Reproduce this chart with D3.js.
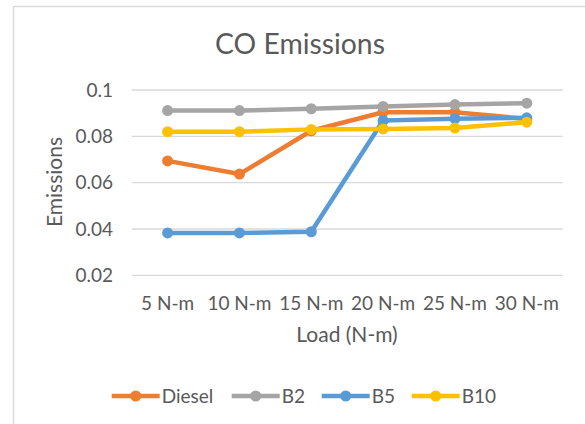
<!DOCTYPE html>
<html><head><meta charset="utf-8">
<script src="https://cdn.jsdelivr.net/npm/d3@7"></script>
<style>body{margin:0;background:#fff}svg{display:block}text{font-family:Lato,"Open Sans",sans-serif;fill:#595959}</style>
</head><body>
<script>
const categories = ["5 N-m","10 N-m","15 N-m","20 N-m","25 N-m","30 N-m"];
const seriesNames = ["Diesel","B2","B5","B10"];
const diesel = [0.0694,0.0637,0.0824,0.0904,0.0904,0.0875];
const b2 = [0.0911,0.0911,0.0919,0.0929,0.0937,0.0943];
const b5 = [0.0383,0.0383,0.0388,0.0868,0.0876,0.0880];
const b10 = [0.0820,0.0820,0.0830,0.0832,0.0836,0.0861];
const yTicks = [0.02,0.04,0.06,0.08,0.1];
const colors = ["#ED7D31","#A5A5A5","#5B9BD5","#FFC000"];
const seriesValues = [diesel,b2,b5,b10];

const W=585,H=424;
const svg=d3.select("body").append("svg").attr("width",W).attr("height",H);
svg.append("rect").attr("x",13.5).attr("y",6.5).attr("width",W).attr("height",H)
  .attr("fill","#fff").attr("stroke","#d9d9d9").attr("stroke-width",1.5);

const x=d3.scaleBand().domain(categories).range([131.7,562.7]);
const y=d3.scaleLinear().domain([0.02,0.1]).range([275.3,90]);

// gridlines
svg.append("g").selectAll("line").data(yTicks).join("line")
  .attr("x1",x.range()[0]).attr("x2",x.range()[1])
  .attr("y1",d=>y(d)).attr("y2",d=>y(d))
  .attr("stroke","#d9d9d9").attr("stroke-width",1.3);

// y axis labels
const yAxis=d3.axisLeft(y).tickValues(yTicks).tickSize(0).tickPadding(0).tickFormat(d=>d3.format("")(+d.toFixed(2)));
const gy=svg.append("g").attr("transform","translate(113,0)").call(yAxis);
gy.select(".domain").remove();
gy.selectAll("text").attr("font-size",19).attr("fill","#595959").style("font-family","Lato");

// x axis labels
const xAxis=d3.axisBottom(x).tickSize(0).tickPadding(0);
const gx=svg.append("g").attr("transform","translate(0,296)").call(xAxis);
gx.select(".domain").remove();
gx.selectAll("text").attr("font-size",19).attr("fill","#595959").style("font-family","Lato");

// title
svg.append("text").attr("x",300).attr("y",54).attr("text-anchor","middle").attr("font-size",28.3).text("CO Emissions");
svg.append("text").attr("x",347).attr("y",342).attr("text-anchor","middle").attr("font-size",21).text("Load (N-m)");
svg.append("text").attr("transform","translate(62,182) rotate(-90)").attr("text-anchor","middle").attr("font-size",21).text("Emissions");

// lines
const line=d3.line().x((d,i)=>x(categories[i])+x.bandwidth()/2).y(d=>y(d));
seriesValues.forEach((vals,si)=>{
  const g=svg.append("g");
  g.append("path").attr("d",line(vals)).attr("fill","none").attr("stroke",colors[si]).attr("stroke-width",4.5).attr("stroke-linejoin","round");
  g.selectAll("circle").data(vals).join("circle")
    .attr("cx",(d,i)=>x(categories[i])+x.bandwidth()/2).attr("cy",d=>y(d)).attr("r",5.5).attr("fill",colors[si]);
});

// legend
const legX=[111.7,231.7,321.7,411.7];
const lg=svg.append("g");
seriesNames.forEach((n,i)=>{
  const ly=396;
  lg.append("line").attr("x1",legX[i]).attr("x2",legX[i]+48).attr("y1",ly).attr("y2",ly).attr("stroke",colors[i]).attr("stroke-width",4.5);
  lg.append("circle").attr("cx",legX[i]+24).attr("cy",ly).attr("r",5.5).attr("fill",colors[i]);
  lg.append("text").attr("x",legX[i]+50).attr("y",ly).attr("dy","0.35em").attr("font-size",19).text(n);
});
</script>
</body></html>
